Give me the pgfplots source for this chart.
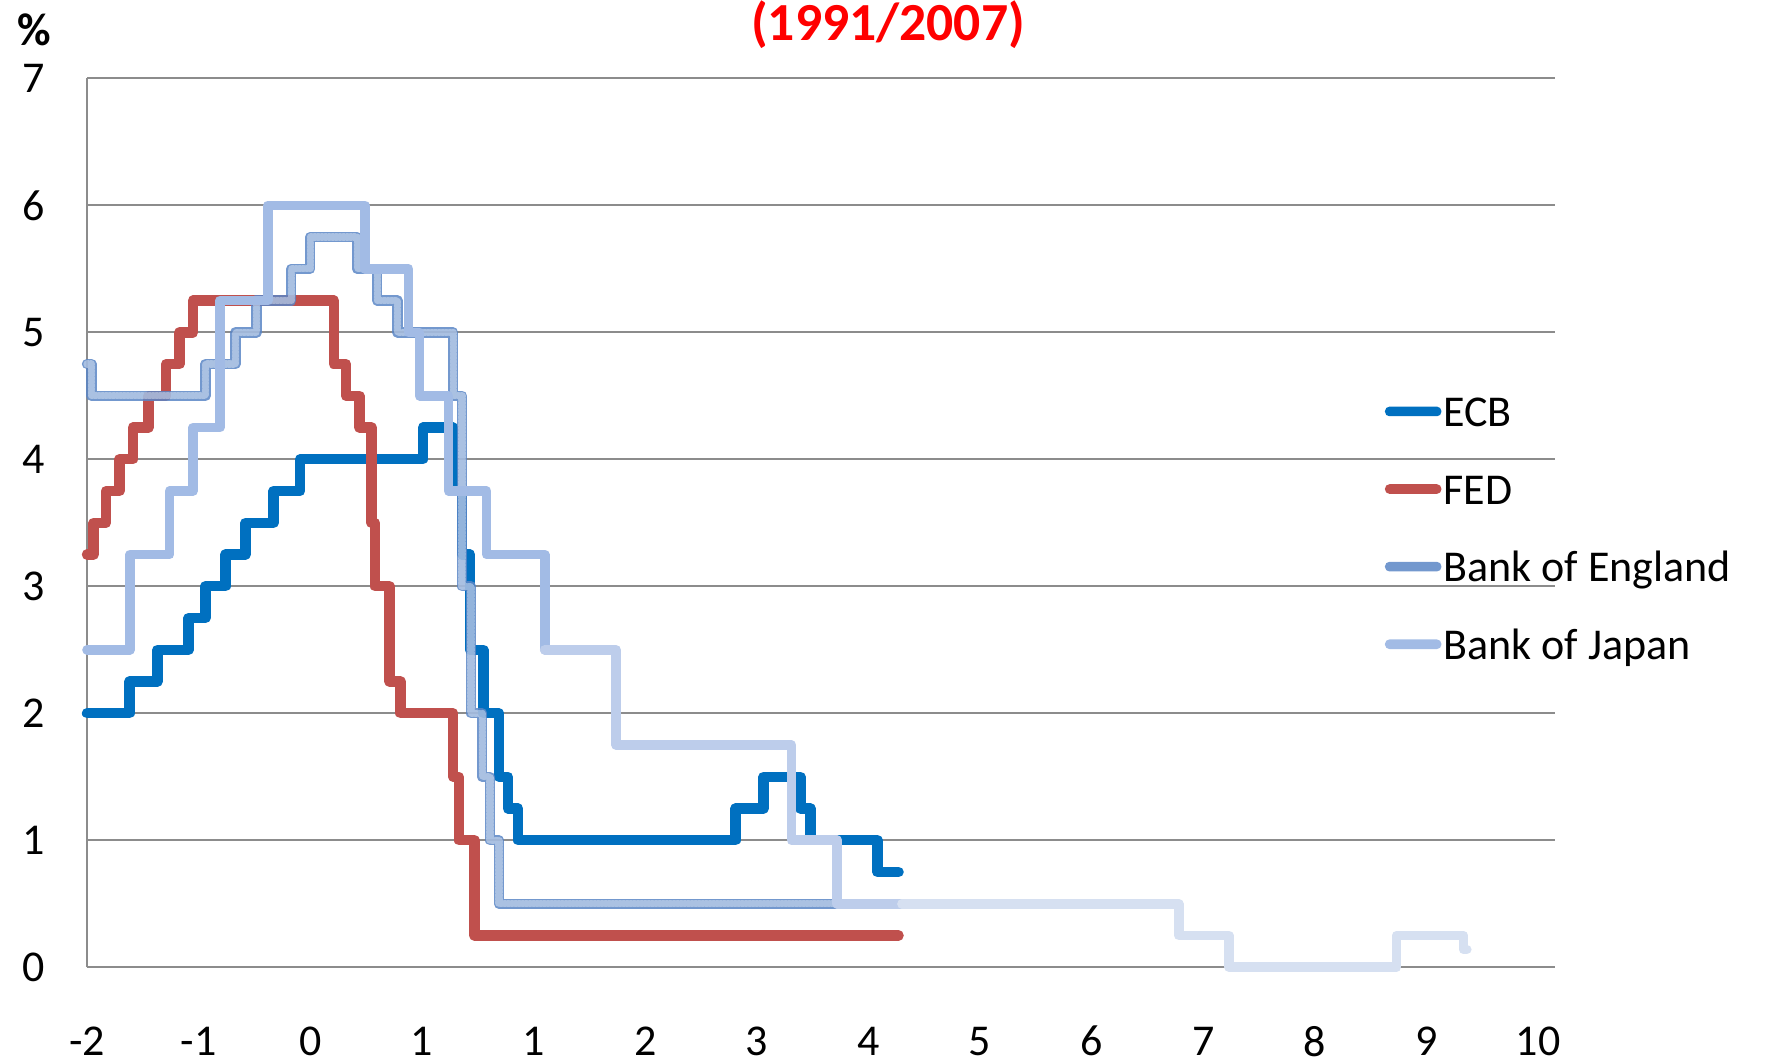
\documentclass[border=0pt]{standalone}
\usepackage{pgfplots}
\pgfplotsset{compat=1.18}
\usepackage{fontspec}
\setmainfont{Carlito}
\usetikzlibrary{calc}
\definecolor{ecb}{HTML}{0070C0}
\definecolor{fed}{HTML}{C0504D}
\definecolor{boe}{HTML}{5A86C6}
\definecolor{bojA}{HTML}{A2BBE5}
\definecolor{bojB}{HTML}{BDCDEB}
\definecolor{bojC}{HTML}{D6E0F1}
\definecolor{gridc}{HTML}{8C8C8C}
\pgfplotsset{legbar/.style={legend image code/.code={\path[draw=none, fill=none] (0pt,0pt) rectangle (14.1pt,0pt);
    \fill[#1, draw=none, rounded corners=1.1pt] (0pt,-0.2pt) rectangle (14.1pt,2.2pt);}}}
\begin{document}
\begin{tikzpicture}
\begin{axis}[
  name=ax,
  scale only axis,
  width=367pt, height=222.25pt,
  xmin=0, xmax=13.15, ymin=0, ymax=7,
  xtick={0,...,13},
  xticklabels={-2,-1,0,1,1,2,3,4,5,6,7,8,9,10},
  ytick={0,...,7},
  ymajorgrids,
  grid style={draw=gridc, line width=0.5pt},
  axis x line=bottom, axis y line=left,
  axis line style={draw=gridc, line width=0.5pt, -},
  major tick length=0pt,
  tick label style={font=\fontsize{11}{13}\selectfont},
  xticklabel style={anchor=center, yshift=-18.5pt},
  yticklabel style={anchor=center, xshift=-13.25pt},
  /pgf/number format/assume math mode=true,
  clip=false,
  legend cell align=left,
  legend style={at={(axis cs:11.62,4.517)}, anchor=north west, draw=none, fill=none,
    inner sep=0pt, font=\fontsize{11}{13}\selectfont, row sep=8.9pt,
    nodes={inner sep=0pt, text height=8pt, text depth=2.5pt},
    /tikz/every odd column/.append style={column sep=0.5pt}},
  every axis plot/.append style={line join=round, line cap=round},
]
% ECB
\addplot[const plot, legbar=ecb, ecb, line width=2.6pt] table {
0 2.0
0.38 2.25
0.63 2.5
0.91 2.75
1.06 3.0
1.24 3.25
1.42 3.5
1.67 3.75
1.91 4.0
3.01 4.25
3.28 3.75
3.36 3.25
3.43 2.5
3.55 2.0
3.69 1.5
3.77 1.25
3.86 1.0
5.81 1.25
6.06 1.5
6.39 1.25
6.48 1.0
7.08 0.75
7.27 0.75
};
\addlegendentry{ECB}
% FED
\addplot[const plot, legbar=fed, fed, line width=2.6pt] table {
0 3.25
0.06 3.5
0.17 3.75
0.29 4.0
0.41 4.25
0.55 4.5
0.71 4.75
0.83 5.0
0.95 5.25
2.21 4.75
2.32 4.5
2.44 4.25
2.55 3.5
2.58 3.0
2.71 2.25
2.81 2.0
3.28 1.5
3.33 1.0
3.47 0.25
7.27 0.25
};
\addlegendentry{FED}
% Bank of England
\addplot[const plot, legbar=boe, boe, line width=2.6pt, opacity=0.85] table {
0 4.75
0.04 4.5
1.06 4.75
1.33 5.0
1.52 5.25
1.83 5.5
2.0 5.75
2.42 5.5
2.60 5.25
2.78 5.0
3.28 4.5
3.36 3.0
3.44 2.0
3.54 1.5
3.61 1.0
3.69 0.5
7.27 0.5
};
\addlegendentry{Bank of England}
\addplot[const plot, white, line width=1.8pt, opacity=0.4, dash pattern=on 0.35pt off 0.55pt, forget plot] table {
0 4.75
0.04 4.5
1.06 4.75
1.33 5.0
1.52 5.25
1.83 5.5
2.0 5.75
2.42 5.5
2.60 5.25
2.78 5.0
3.28 4.5
3.36 3.0
3.44 2.0
3.54 1.5
3.61 1.0
3.69 0.5
7.27 0.5
};
% Bank of Japan
\addplot[const plot, legbar=bojA, bojA, line width=2.4pt] table {
0 2.5
0.385 3.25
0.74 3.75
0.95 4.25
1.19 5.25
1.62 6.0
2.49 5.5
2.88 5.0
2.98 4.5
3.24 3.75
3.58 3.25
4.10 2.5
};
\addlegendentry{Bank of Japan}
\addplot[const plot, bojB, line width=2.4pt, forget plot] table {
4.10 2.5
4.74 1.75
6.31 1.0
6.72 0.5
7.3 0.5
};
\addplot[const plot, bojC, line width=2.4pt, forget plot] table {
7.3 0.5
9.78 0.25
10.23 0.0
11.73 0.25
12.33 0.14
12.36 0.14
};
\end{axis}
\node[font=\bfseries\fontsize{13.4}{15}\selectfont, text=red] at ([xshift=200.25pt, yshift=13.3pt]ax.north west) {(1991/2007)};
\node[font=\bfseries\fontsize{11.5}{13}\selectfont] at ([xshift=-13.25pt, yshift=12pt]ax.north west) {\%};
\pgfresetboundingbox
\path[use as bounding box] ([shift={(-21.75pt,-23.93pt)}]ax.south west) rectangle ++(442.75pt,265.75pt);
\end{tikzpicture}
\end{document}
